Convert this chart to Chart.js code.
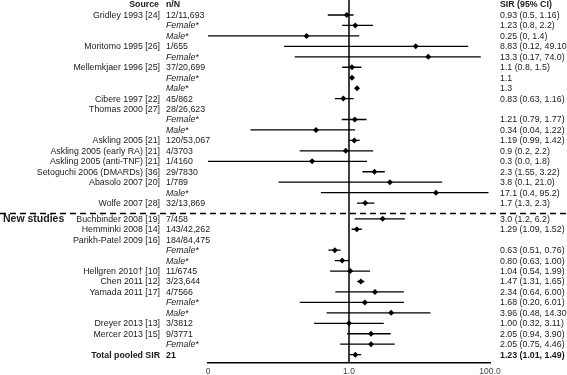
<!DOCTYPE html>
<html lang="en">
<head>
    <meta charset="UTF-8">
    <title>SIR forest plot</title>
    <script src="https://cdn.jsdelivr.net/npm/chart.js"></script>
    <style>
        body { margin: 0; background: #fff; }
        canvas { display: block; }
    </style>
</head>
<body>
    <canvas id="forest" width="567" height="375"></canvas>

    <script>
        // filas del gráfico (de arriba a abajo)
        const sources = ['Gridley 1993 [24]', '', '', 'Moritomo 1995 [26]', '', 'Mellemkjaer 1996 [25]', '', '',
            'Cibere 1997 [22]', 'Thomas 2000 [27]', '', '', 'Askling 2005 [21]', 'Askling 2005 (early RA) [21]',
            'Askling 2005 (anti-TNF) [21]', 'Setoguchi 2006 (DMARDs) [36]', 'Abasolo 2007 [20]', '', 'Wolfe 2007 [28]',
            'Buchbinder 2008 [19]', 'Hemminki 2008 [14]', 'Parikh-Patel 2009 [16]', '', '', 'Hellgren 2010\u2020 [10]',
            'Chen 2011 [12]', 'Yamada 2011 [17]', '', '', 'Dreyer 2013 [13]', 'Mercer 2013 [15]', '', 'Total pooled SIR'];
        const nN = ['12/11,693', 'Female*', 'Male*', '1/655', 'Female*', '37/20,699', 'Female*', 'Male*',
            '45/862', '28/26,623', 'Female*', 'Male*', '120/53,067', '4/3703',
            '1/4160', '29/7830', '1/789', 'Male*', '32/13,869',
            '7/458', '143/42,262', '184/84,475', 'Female*', 'Male*', '11/6745',
            '3/23,644', '4/7566', 'Female*', 'Male*', '3/3812', '9/3771', 'Female*', '21'];
        const sir = [0.93, 1.23, 0.25, 8.83, 13.3, 1.1, 1.1, 1.3, 0.83, null, 1.21, 0.34, 1.19, 0.9, 0.3, 2.3, 3.8, 17.1, 1.7,
            3.0, 1.29, null, 0.63, 0.80, 1.04, 1.47, 2.34, 1.68, 3.96, 1.00, 2.05, 2.05, 1.23];
        const lower = [0.5, 0.8, 0, 0.12, 0.17, 0.8, null, null, 0.63, null, 0.79, 0.04, 0.99, 0.2, 0.0, 1.55, 0.1, 0.4, 1.3,
            1.2, 1.09, null, 0.51, 0.63, 0.54, 1.31, 0.64, 0.20, 0.48, 0.32, 0.94, 0.75, 1.01];
        const upper = [1.16, 2.2, 1.4, 49.10, 74.0, 1.5, null, null, 1.16, null, 1.77, 1.22, 1.42, 2.2, 1.8, 3.22, 21.0, 95.2, 2.3,
            6.2, 1.52, null, 0.76, 1.00, 1.99, 1.65, 6.00, 6.01, 14.30, 3.11, 3.90, 4.46, 1.49];
        const ciText = ['0.93 (0.5, 1.16)', '1.23 (0.8, 2.2)', '0.25 (0, 1.4)', '8.83 (0.12, 49.10)', '13.3 (0.17, 74.0)',
            '1.1 (0.8, 1.5)', '1.1', '1.3', '0.83 (0.63, 1.16)', '', '1.21 (0.79, 1.77)', '0.34 (0.04, 1.22)',
            '1.19 (0.99, 1.42)', '0.9 (0.2, 2.2)', '0.3 (0.0, 1.8)', '2.3 (1.55, 3.22)', '3.8 (0.1, 21.0)',
            '17.1 (0.4, 95.2)', '1.7 (1.3, 2.3)', '3.0 (1.2, 6.2)', '1.29 (1.09, 1.52)', '', '0.63 (0.51, 0.76)',
            '0.80 (0.63, 1.00)', '1.04 (0.54, 1.99)', '1.47 (1.31, 1.65)', '2.34 (0.64, 6.00)', '1.68 (0.20, 6.01)',
            '3.96 (0.48, 14.30)', '1.00 (0.32, 3.11)', '2.05 (0.94, 3.90)', '2.05 (0.75, 4.46)', '1.23 (1.01, 1.49)'];
        const xTicks = [0.01, 1, 100];
        const xTickLabels = ['0', '1.0', '100.0'];
        const newStudiesRow = 19;
        const totalRow = sources.length - 1;

        const X_MIN = 0.01, X_MAX = 100;
        const FONT = '"Liberation Sans", Arial, sans-serif';
        const FS = '8.8px ';

        // posición vertical de cada fila (medio renglón extra tras la línea discontinua)
        const rowPos = i => i + (i >= newStudiesRow ? 0.5 : 0);

        // segmentos de IC separados por huecos
        const ciSegments = [];
        sir.forEach((v, i) => {
            if (lower[i] === null) return;
            ciSegments.push({ x: Math.max(lower[i], X_MIN), y: rowPos(i) });
            ciSegments.push({ x: upper[i], y: rowPos(i) });
            ciSegments.push({ x: 1, y: null });
        });
        const points = sir.map((v, i) => v === null ? null : { x: v, y: rowPos(i) }).filter(p => p);

        const textPlugin = {
            id: 'forestText',
            afterDraw(chart) {
                const ctx = chart.ctx;
                const y = chart.scales.y;
                ctx.save();
                ctx.textBaseline = 'middle';
                ctx.fillStyle = '#1a1a1a';

                // encabezados
                const hy = y.getPixelForValue(-0.96);
                ctx.font = 'bold ' + FS + FONT;
                ctx.textAlign = 'right';
                ctx.fillText('Source', 159, hy);
                ctx.textAlign = 'left';
                ctx.fillText('n/N', 166, hy);
                ctx.fillText('SIR (95% CI)', 500, hy);

                sources.forEach((s, i) => {
                    const py = y.getPixelForValue(rowPos(i)) + 0.5;
                    const bold = i === totalRow ? 'bold ' : '';
                    ctx.font = bold + FS + FONT;
                    ctx.textAlign = 'right';
                    ctx.fillText(s, 160, py);
                    ctx.textAlign = 'left';
                    const sub = /^(Female|Male)/.test(nN[i]) ? 'italic ' : '';
                    ctx.font = sub + bold + FS + FONT;
                    ctx.fillText(nN[i], 166, py);
                    ctx.font = bold + FS + FONT;
                    ctx.fillText(ciText[i], 500, py);
                });

                ctx.font = 'bold 10.5px ' + FONT;
                ctx.textAlign = 'left';
                ctx.fillText('New studies', 3, y.getPixelForValue(rowPos(newStudiesRow)) + 0.5);

                // separador discontinuo
                const dy = Math.round(y.getPixelForValue(newStudiesRow - 0.1)) + 0.5;
                ctx.strokeStyle = '#000';
                ctx.lineWidth = 1.5;
                ctx.setLineDash([6, 4]);
                ctx.beginPath();
                ctx.moveTo(0, dy);
                ctx.lineTo(chart.width, dy);
                ctx.stroke();
                ctx.restore();
            }
        };

        new Chart(document.getElementById('forest'), {
            type: 'scatter',
            data: {
                datasets: [
                    {
                        data: [{ x: 1, y: -1.6 }, { x: 1, y: rowPos(totalRow) + 1 }],
                        showLine: true, borderColor: '#000', borderWidth: 1.5, pointRadius: 0
                    },
                    {
                        data: ciSegments,
                        showLine: true, spanGaps: false, borderColor: '#000', borderWidth: 1.3, pointRadius: 0
                    },
                    {
                        data: points,
                        pointStyle: 'rectRot', pointRadius: 3, backgroundColor: '#000', borderColor: '#000', borderWidth: 0
                    }
                ]
            },
            options: {
                responsive: false,
                animation: false,
                layout: { autoPadding: false, padding: { left: 208, right: 77, top: 0, bottom: 0 } },
                plugins: { legend: { display: false }, tooltip: { enabled: false } },
                scales: {
                    x: {
                        type: 'logarithmic',
                        min: X_MIN, max: X_MAX,
                        afterBuildTicks: axis => { axis.ticks = xTicks.map(v => ({ value: v })); },
                        afterFit: axis => { axis.height = 12; },
                        ticks: {
                            callback: (v) => xTickLabels[xTicks.indexOf(v)],
                            font: { size: 8.5, family: FONT }, color: '#444', padding: 4, maxRotation: 0
                        },
                        grid: { display: false, drawTicks: false },
                        border: { color: '#000', width: 1.5 }
                    },
                    y: {
                        type: 'linear', reverse: true, display: false,
                        min: -1.435, max: 33.3
                    }
                }
            },
            plugins: [textPlugin]
        });
    </script>
</body>
</html>
